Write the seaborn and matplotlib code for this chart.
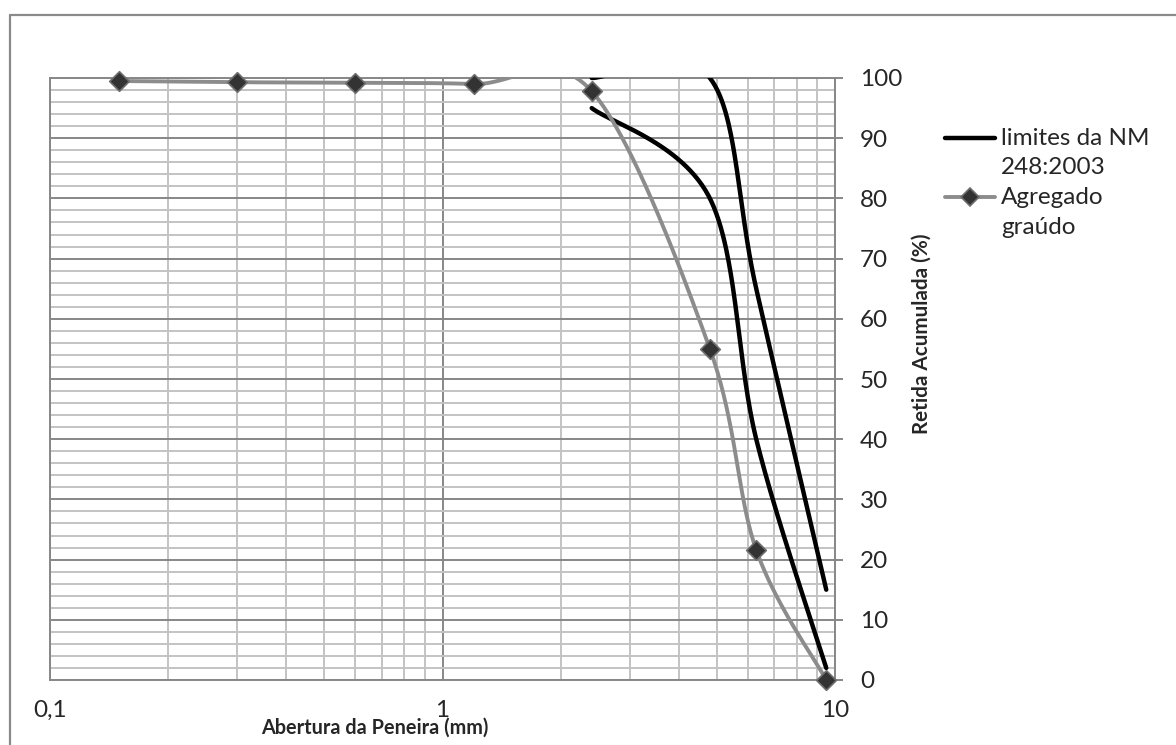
import numpy as np
import pandas as pd
import matplotlib
matplotlib.use("Agg")
import matplotlib.pyplot as plt
import matplotlib.ticker as mticker
from matplotlib.lines import Line2D
import seaborn as sns

# ── Data ───────────────────────────────────────────────────────────────────────
sieve_agg    = [0.15, 0.3, 0.6, 1.2, 2.4, 4.8, 6.3, 9.5]   # mm
retained_agg = [99.5, 99.3, 99.2, 99.0, 97.8, 55.0, 21.6, 0.0]

sieve_lim  = [2.4, 4.8, 6.3, 9.5]
lim_upper  = [100, 100, 65, 15]
lim_lower  = [95, 80, 40, 2]

x_ticks      = [0.1, 1, 10]
x_ticklabels = ["0,1", "1", "10"]
y_ticks      = list(range(0, 101, 10))

LABEL_X = "Abertura da Peneira (mm)"
LABEL_Y = "Retida Acumulada (%)"
LEG_LIM = "limites da NM\n248:2003"
LEG_AGG = "Agregado\ngraúdo"

# ── Style ──────────────────────────────────────────────────────────────────────
sns.set_style("white")
plt.rcParams["font.family"] = ["Lato", "DejaVu Sans"]
plt.rcParams["font.size"] = 17.5

GRAY_LINE = "#8c8c8c"
MARK      = "#333333"
GRID_MIN  = "#c3c3c3"
GRID_MAJ  = "#878787"
W, H = 1176, 745
FS_TXT, FS_LBL = 17.5, 14.3


def smooth(xs, ys, n=60):
    """Excel-like smoothed line (Catmull-Rom Bezier) in log-x space."""
    p = np.column_stack([np.log10(xs), np.asarray(ys, float)])
    pts = np.vstack([p[0], p, p[-1]])
    out = []
    t = np.linspace(0, 1, n)[:, None]
    for i in range(len(p) - 1):
        p0, p1, p2, p3 = pts[i], pts[i + 1], pts[i + 2], pts[i + 3]
        c1 = p1 + (p2 - p0) / 6
        c2 = p2 - (p3 - p1) / 6
        seg = (1 - t)**3 * p1 + 3 * (1 - t)**2 * t * c1 + 3 * (1 - t) * t**2 * c2 + t**3 * p2
        out.append(seg if i == 0 else seg[1:])
    s = np.vstack(out)
    return pd.DataFrame({"x": 10 ** s[:, 0], "y": s[:, 1]})


fig = plt.figure(figsize=(W / 100, H / 100), dpi=100)
ax = fig.add_axes([50 / W, 1 - 680 / H, 785 / W, 602 / H])

# smoothed curves
for ys in (lim_upper, lim_lower):
    sns.lineplot(data=smooth(sieve_lim, ys), x="x", y="y", sort=False, estimator=None,
                 color="black", lw=3.2, ax=ax, zorder=3)
sns.lineplot(data=smooth(sieve_agg, retained_agg), x="x", y="y", sort=False, estimator=None,
             color=GRAY_LINE, lw=2.8, ax=ax, zorder=4)
agg = pd.DataFrame({"x": sieve_agg, "y": retained_agg})
sns.scatterplot(data=agg, x="x", y="y", marker="D", s=100, color=MARK,
                edgecolor="#6e6e6e", linewidth=1.2, ax=ax, zorder=5, clip_on=False)

# axes
ax.set_xscale("log")
ax.set_xlim(0.1, 10)
ax.set_ylim(0, 100)
ax.set_xticks(x_ticks)
ax.set_xticklabels(x_ticklabels)
ax.xaxis.set_minor_locator(mticker.LogLocator(base=10, subs=range(2, 10)))
ax.xaxis.set_minor_formatter(mticker.NullFormatter())
ax.set_yticks(y_ticks)
ax.yaxis.set_minor_locator(mticker.MultipleLocator(2))
ax.yaxis.tick_right()
ax.yaxis.set_label_position("right")

ax.grid(which="minor", color=GRID_MIN, lw=1.4)
ax.grid(which="major", color=GRID_MAJ, lw=1.4)
ax.set_axisbelow(True)
for sp in ax.spines.values():
    sp.set_color(GRID_MAJ)
    sp.set_linewidth(1.4)

ax.tick_params(which="minor", length=0)
ax.tick_params(axis="x", which="major", direction="out", length=5.5, width=1.4,
               color=GRID_MAJ, pad=9, labelsize=FS_TXT)
ax.tick_params(axis="y", which="major", direction="out", length=6, width=1.4,
               color=GRID_MAJ, pad=12, labelsize=FS_TXT, right=True, left=False)
for lbl in ax.get_yticklabels():
    lbl.set_ha("left")

ax.set_xlabel(LABEL_X, fontweight="bold", fontsize=FS_LBL)
ax.xaxis.label.set_va("center")
ax.xaxis.set_label_coords((375 - 50) / 785, (680 - 728) / 602)
ax.set_ylabel(LABEL_Y, fontweight="bold", fontsize=14.9, rotation=90)
ax.yaxis.label.set_va("center")
ax.yaxis.set_label_coords((922 - 50) / 785, (680 - 334) / 602)

# legend, drawn in figure pixels like the Excel original
def fx(px): return px / W
def fy(py): return 1 - py / H

fig.add_artist(Line2D([fx(945), fx(995)], [fy(138), fy(138)], color="black", lw=3.2))
fig.add_artist(Line2D([fx(945), fx(995)], [fy(197), fy(197)], color=GRAY_LINE, lw=2.8))
fig.add_artist(Line2D([fx(970)], [fy(197)], marker="D", ms=9.5, color=MARK,
                      markeredgecolor="#6e6e6e", markeredgewidth=1.2))
fig.text(fx(1001), fy(128), LEG_LIM, va="top", ha="left", fontsize=FS_TXT, linespacing=1.5)
fig.text(fx(1001), fy(187), LEG_AGG, va="top", ha="left", fontsize=FS_TXT, linespacing=1.5)

# chart frame (top and left edges visible)
fig.add_artist(Line2D([fx(10), fx(W)], [fy(15), fy(15)], color="#8a8a8a", lw=1.6))
fig.add_artist(Line2D([fx(10), fx(10)], [fy(15), fy(H)], color="#8a8a8a", lw=1.6))

fig.savefig("out.png", dpi=100, facecolor="white")
